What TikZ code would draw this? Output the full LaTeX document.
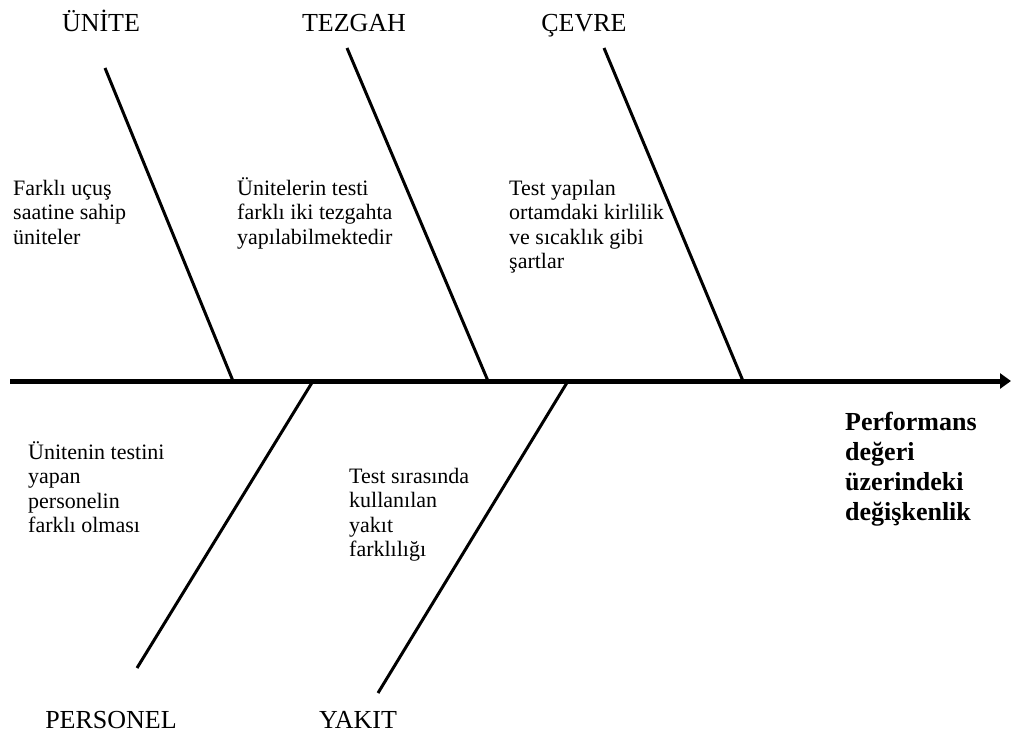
\documentclass[tikz,border=0pt]{standalone}
\usepackage{fontspec}
\setmainfont{Liberation Serif}
\usetikzlibrary{arrows.meta}
\begin{document}
\begin{tikzpicture}[x=1pt,y=-1pt,
  spine/.style={line width=5pt,-{Triangle[length=11pt,width=15pt]}},
  bone/.style={line width=3pt},
  head/.style={inner sep=0pt,anchor=base,font=\fontsize{26}{30}\selectfont},
  % multi-line nodes: the base anchor sits on the last line
  cause/.style={inner sep=0pt,anchor=base west,align=left,font=\fontsize{22}{24.5}\selectfont},
  effect/.style={inner sep=0pt,anchor=base west,align=left,font=\fontsize{26}{30}\selectfont\bfseries}]
\useasboundingbox (0,0) rectangle (1011,735);

% main spine
\coordinate (s0) at (10,381);
\coordinate (s1) at (1011,381);
\draw[spine] (s0) -- (s1);

% upper bones
\coordinate (a0) at (105,68);  \coordinate (a1) at (233,381);
\coordinate (b0) at (347,48);  \coordinate (b1) at (488,381);
\coordinate (c0) at (604,48);  \coordinate (c1) at (743,381);
\draw[bone] (a0) -- (a1);
\draw[bone] (b0) -- (b1);
\draw[bone] (c0) -- (c1);

% lower bones
\coordinate (d0) at (313,381); \coordinate (d1) at (137,668);
\coordinate (e0) at (568,381); \coordinate (e1) at (378,693);
\draw[bone] (d0) -- (d1);
\draw[bone] (e0) -- (e1);

% category headings
\node[head] (hu) at (101,32) {ÜNİTE};
\node[head] (ht) at (354,32) {TEZGAH};
\node[head] (hc) at (584,32) {ÇEVRE};
\node[head] (hp) at (111,728) {PERSONEL};
\node[head] (hy) at (358,728) {YAKIT};

% causes
\node[cause] (t1) at (13,244) {Farklı uçuş\\saatine sahip\\üniteler};
\node[cause] (t2) at (237,244) {Ünitelerin testi\\farklı iki tezgahta\\yapılabilmektedir};
\node[cause] (t3) at (509,268.5) {Test yapılan\\ortamdaki kirlilik\\ve sıcaklık gibi\\şartlar};
\node[cause] (t4) at (28,532.5) {Ünitenin testini\\yapan\\personelin\\farklı olması};
\node[cause] (t5) at (349,556.5) {Test sırasında\\kullanılan\\yakıt\\farklılığı};

% effect
\node[effect] (ef) at (845,520) {Performans\\değeri\\üzerindeki\\değişkenlik};
\end{tikzpicture}
\end{document}
